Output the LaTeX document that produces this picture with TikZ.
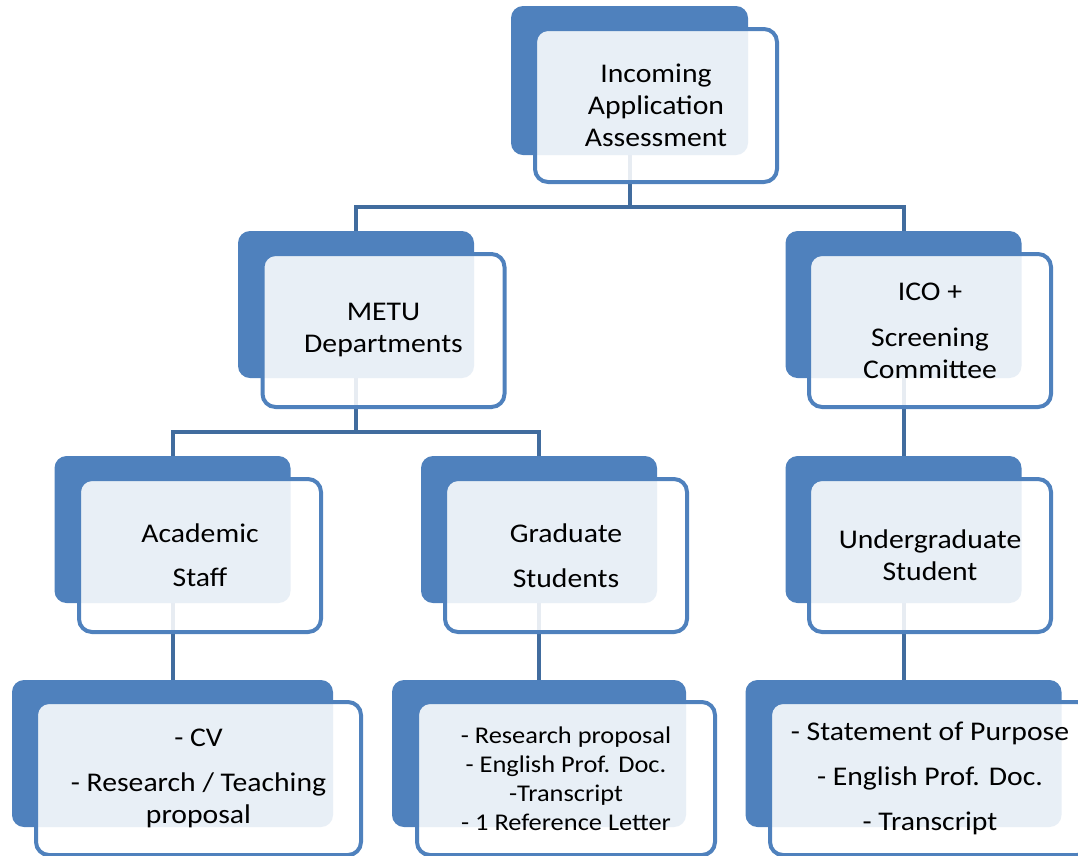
\documentclass[tikz,border=0pt]{standalone}
\usepackage{fontspec}
\setmainfont{Carlito}[FakeStretch=1.1]
\usetikzlibrary{positioning,calc,backgrounds}
\definecolor{boxBlue}{RGB}{79,129,189}
\definecolor{linkBlue}{RGB}{65,108,158}

\begin{document}
\begin{tikzpicture}[x=1pt,y=-1pt,
  back/.style={fill=boxBlue,rounded corners=12pt,inner sep=0pt,
    minimum width=236pt,minimum height=147pt},
  front/.style={draw=boxBlue,line width=4pt,fill=white,fill opacity=0.875,
    text opacity=1,rounded corners=13pt,inner sep=0pt,align=center,
    minimum width=242pt,minimum height=153pt,
    font=\fontsize{27}{32}\selectfont},
  link/.style={draw=linkBlue,line width=4pt}]
  \useasboundingbox (0,0) rectangle (1078,855);
  \clip (0,0) rectangle (1078,855);
  % level 0
  \node[back,minimum width=237pt,minimum height=149pt] (topB) at (629.5,80.5) {};
  \node[front] (topF) at ($(topB)+(26.5,25)$) {Incoming\\Application\\Assessment};
  % level 1
  \node[back] (metuB) at (356,304.5) {};
  \node[front] (metuF) at ($(metuB)+(27.5,26)$) {METU\\Departments};
  \node[back] (icoB) at (903.5,304.5) {};
  \node[front] (icoF) at ($(icoB)+(26.5,26)$) {ICO +\\[14pt]Screening\\Committee};
  % level 2
  \node[back] (acadB) at (172.5,529.5) {};
  \node[front] (acadF) at ($(acadB)+(27.5,26)$) {Academic\\[12pt]Staff};
  \node[back] (gradB) at (539,529.5) {};
  \node[front] (gradF) at ($(gradB)+(27,26)$) {Graduate\\[13pt]Students};
  \node[back] (ugB) at (903.5,529.5) {};
  \node[front] (ugF) at ($(ugB)+(26.5,26)$) {Undergraduate\\Student};
  % level 3: documents
  \node[back,minimum width=321pt] (cvB) at (172.5,753.5) {};
  \node[front,minimum width=325pt] (cvF) at ($(cvB)+(26,25)$)
    {- CV\\[13pt]- Research / Teaching\\proposal};
  \node[back,minimum width=294pt] (gradDocB) at (539,753.5) {};
  \node[front,minimum width=298pt,font=\fontsize{24}{29}\selectfont] (gradDocF)
    at ($(gradDocB)+(27,25)$)
    {- Research proposal\\- English Prof. Doc.\\-Transcript\\- 1 Reference Letter};
  \node[back,minimum width=316pt] (ugDocB) at (903.5,753.5) {};
  \node[front,minimum width=320pt] (ugDocF) at ($(ugDocB)+(26.5,25)$)
    {- Statement of Purpose\\[13pt]- English Prof. Doc.\\[13pt]- Transcript};
  % connectors, behind the boxes
  \begin{scope}[on background layer]
    \foreach \p/\c in {top/metu,top/ico,metu/acad,metu/grad,ico/ug,
                       acad/cv,grad/gradDoc,ug/ugDoc} {
      \coordinate (mid) at ($(\p F.south)!0.5!(\c B.north)$);
      \draw[link] (\p B.south) |- (mid -| \c B.north) -- (\c B.north);
    }
  \end{scope}
\end{tikzpicture}
\end{document}
